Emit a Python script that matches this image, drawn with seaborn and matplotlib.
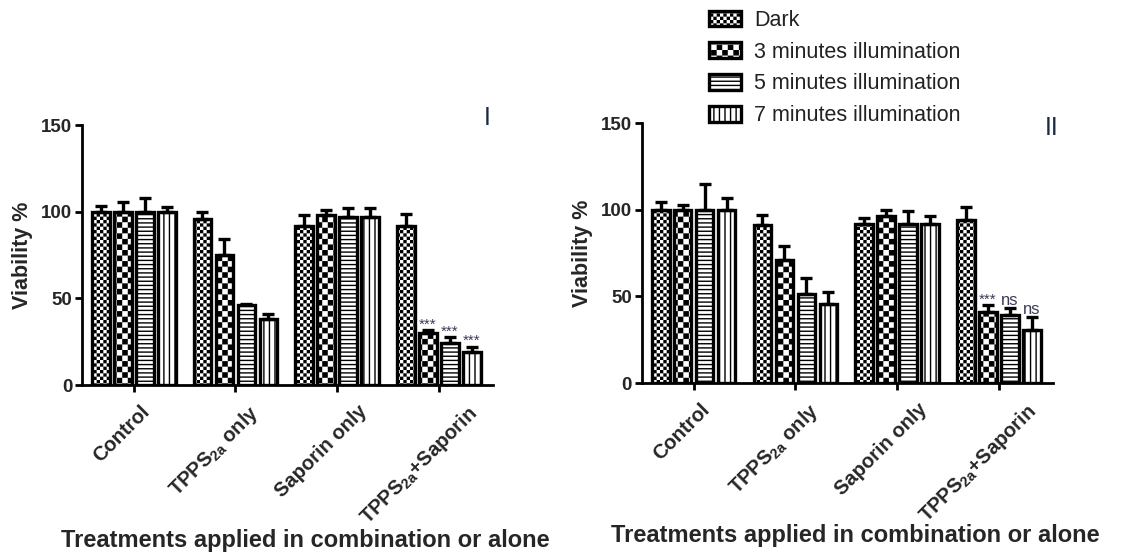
import numpy as np
import pandas as pd
import matplotlib
matplotlib.use("Agg")
import matplotlib.pyplot as plt
from matplotlib.container import BarContainer
from matplotlib import hatch as mhatch
from matplotlib.path import Path
from matplotlib.transforms import ScaledTranslation
import seaborn as sns

# ---------------- data ----------------
treatments = ["Control", "TPPS$_{\\mathbf{2a}}$ only", "Saporin only", "TPPS$_{\\mathbf{2a}}$+Saporin"]
conditions = ["Dark", "3 minutes illumination", "5 minutes illumination", "7 minutes illumination"]

# panel I : rows = treatments, columns = conditions
means_I = [[100, 100, 100, 100],
           [96, 75, 46, 38],
           [92, 98, 97, 97],
           [92, 30, 24, 19]]
errs_I = [[3, 5.5, 8, 2.5],
          [4, 9, 0.8, 3],
          [6, 3, 5, 5],
          [6.5, 1.5, 3.5, 3]]
# panel II
means_II = [[100, 100, 100, 100],
            [91, 71, 51.5, 45.5],
            [92, 96.5, 91.5, 92],
            [94, 41, 39, 30.5]]
errs_II = [[4.5, 3, 15, 7],
           [6, 8, 9, 7],
           [3.5, 3.5, 8, 4.5],
           [7.5, 4, 4.5, 7.5]]
# significance labels (treatment index, condition index, text)
signif_I = [(3, 1, "***"), (3, 2, "***"), (3, 3, "***")]
signif_II = [(3, 1, "***"), (3, 2, "ns"), (3, 3, "ns")]
panel_labels = ["I", "II"]
yticks = [0, 50, 100, 150]
xlabel = "Treatments applied in combination or alone"
ylabel = "Viability %"

HATCH_LW = 1.0  # points
LABEL_DX_PX = [6, 13, 20, 27]   # horizontal nudge of each rotated tick label (style)


# ---------------- checkerboard hatch (replaces the '*' star hatch) ----------------
class CheckerHatch(mhatch.HatchPatternBase):
    def __init__(self, hatch, density):
        self.n = int(hatch.count('*')) * density
        self.cells = [(r, c) for r in range(self.n) for c in range(self.n) if (r + c) % 2 == 0]
        self.num_vertices = len(self.cells) * 5

    def set_vertices_and_codes(self, vertices, codes):
        s = 1.0 / self.n
        ins = HATCH_LW / 72.0 / 2.0  # compensate for the stroke around each square
        k = 0
        for (r, c) in self.cells:
            x0, y0 = c * s + ins, r * s + ins
            x1, y1 = (c + 1) * s - ins, (r + 1) * s - ins
            vertices[k:k + 5] = [[x0, y0], [x1, y0], [x1, y1], [x0, y1], [x0, y0]]
            codes[k:k + 5] = [Path.MOVETO, Path.LINETO, Path.LINETO, Path.LINETO, Path.CLOSEPOLY]
            k += 5


mhatch._hatch_types = [CheckerHatch if t is mhatch.Stars else t for t in mhatch._hatch_types]

hatches = ["*****", "***", "----", "|||"]

# ---------------- style ----------------
sns.set_theme(style="white")
plt.rcParams["font.family"] = ["Liberation Sans", "DejaVu Sans"]
plt.rcParams["mathtext.fontset"] = "custom"
plt.rcParams["mathtext.rm"] = "Liberation Sans"
plt.rcParams["mathtext.bf"] = "Liberation Sans:bold"
plt.rcParams["hatch.linewidth"] = HATCH_LW
plt.rcParams["hatch.color"] = "black"

fig = plt.figure(figsize=(11.38, 5.52), dpi=100)
ax1 = fig.add_axes([0.072, 0.3025, 0.361, 0.471])
ax2 = fig.add_axes([0.564, 0.306, 0.361, 0.471])


def draw(ax, means, errs, signif):
    rows = []
    for i, t in enumerate(treatments):
        for j, c in enumerate(conditions):
            rows.append({"treatment": t, "condition": c, "value": means[i][j], "err": errs[i][j]})
    df = pd.DataFrame(rows)
    sns.barplot(data=df, x="treatment", y="value", hue="condition", order=treatments,
                hue_order=conditions, errorbar=None, width=0.865, gap=0.2,
                ax=ax, legend=False, saturation=1)
    bars = [c for c in ax.containers if isinstance(c, BarContainer)]
    centers = {}
    for j, cont in enumerate(bars):
        for i, p in enumerate(cont.patches):
            p.set_facecolor("white")
            p.set_edgecolor("black")
            p.set_linewidth(2.4)
            p.set_hatch(hatches[j])
            cx = p.get_x() + p.get_width() / 2
            centers[(i, j)] = cx
            top = p.get_height()
            e = errs[i][j]
            ax.errorbar([cx], [top], yerr=[[0], [e]], fmt="none", ecolor="black",
                        elinewidth=2.4, capsize=4, capthick=2.4, zorder=1)
    for (i, j, s) in signif:
        top = means[i][j] + errs[i][j]
        fs = 11 if s == "***" else 12
        dy = -1 if s == "***" else 0
        ax.annotate(s, xy=(centers[(i, j)], top), xytext=(0, dy), textcoords="offset points",
                    ha="center", va="bottom", fontsize=fs, color="#3a3a5a")
    ax.set_xlim(-0.51, 3.53)
    ax.set_ylim(0, 150)
    for sp in ["top", "right"]:
        ax.spines[sp].set_visible(False)
    for sp in ["left", "bottom"]:
        ax.spines[sp].set_linewidth(2.0)
        ax.spines[sp].set_color("black")
    ax.tick_params(axis="both", direction="out", length=5, width=2, color="black",
                   left=True, bottom=True, pad=2)
    ax.set_yticks(yticks)
    ax.set_yticklabels([str(v) for v in yticks], fontsize=13.5, fontweight="bold")
    ax.set_xticks(range(len(treatments)))
    ax.set_xticklabels(treatments, rotation=45, ha="right", va="top",
                       rotation_mode="anchor", fontsize=14.5, fontweight="bold")
    for lab, dx in zip(ax.get_xticklabels(), LABEL_DX_PX):
        off = ScaledTranslation(dx / 100, -7 / 100, fig.dpi_scale_trans)
        lab.set_transform(lab.get_transform() + off)
    ax.set_ylabel(ylabel, fontsize=15.5, fontweight="bold", labelpad=6)
    ax.set_xlabel("")
    return bars


bars1 = draw(ax1, means_I, errs_I, signif_I)
draw(ax2, means_II, errs_II, signif_II)

fig.text(0.268, 0.0, xlabel, ha="center", va="bottom", fontsize=17, fontweight="bold")
fig.text(0.752, 0.009, xlabel, ha="center", va="bottom", fontsize=17, fontweight="bold")

fig.text(487 / 1138, 1 - 118 / 552, panel_labels[0], ha="center", va="center",
         fontsize=18, color="#1a2a44")
fig.text(1052 / 1138, 1 - 128 / 552, panel_labels[1], ha="center", va="center",
         fontsize=18, color="#1a2a44")

fig.legend([b.patches[0] for b in bars1], conditions, loc="upper left",
           bbox_to_anchor=(709 / 1138, 0.982), frameon=False, fontsize=15.5,
           handlelength=1.5, handleheight=0.75, handletextpad=0.6,
           labelspacing=0.5, borderpad=0, borderaxespad=0, labelcolor="#222222")

fig.savefig("out.png", dpi=100)
